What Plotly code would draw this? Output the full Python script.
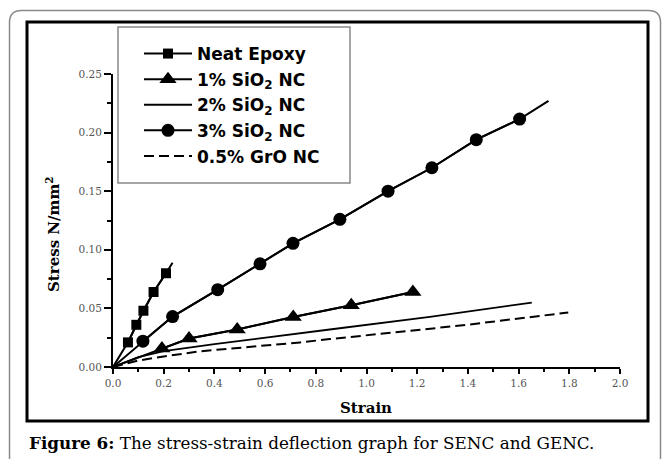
import plotly.graph_objects as go

# ---------------- data ----------------
neat_strain = [0.059, 0.092, 0.12, 0.16, 0.209]
neat_stress = [0.021, 0.036, 0.048, 0.064, 0.080]
neat_line_strain = [0.0, 0.059, 0.092, 0.12, 0.16, 0.209, 0.235]
neat_line_stress = [0.0, 0.021, 0.036, 0.048, 0.064, 0.080, 0.089]

si1_strain = [0.193, 0.30, 0.49, 0.711, 0.94, 1.183]
si1_stress = [0.0157, 0.0243, 0.032, 0.0427, 0.0527, 0.064]
si1_line_strain = [0.0, 0.193, 0.30, 0.49, 0.711, 0.94, 1.183]
si1_line_stress = [0.0, 0.0157, 0.0243, 0.032, 0.0427, 0.0527, 0.064]

si2_strain = [0.0, 0.1, 0.2, 0.4, 0.855, 1.25, 1.652]
si2_stress = [0.0, 0.0085, 0.0135, 0.0195, 0.032, 0.0427, 0.055]

si3_strain = [0.118, 0.235, 0.413, 0.58, 0.71, 0.895, 1.085, 1.258, 1.433, 1.604]
si3_stress = [0.022, 0.043, 0.066, 0.088, 0.1055, 0.126, 0.150, 0.170, 0.194, 0.2115]
si3_line_strain = [0.0] + si3_strain + [1.718]
si3_line_stress = [0.0] + si3_stress + [0.227]

gro_strain = [0.0, 0.1, 0.2, 0.344, 0.738, 0.855, 1.38, 1.796]
gro_stress = [0.0, 0.0055, 0.009, 0.0134, 0.021, 0.0238, 0.0356, 0.0465]

x_ticks = [0.0, 0.2, 0.4, 0.6, 0.8, 1.0, 1.2, 1.4, 1.6, 1.8, 2.0]
y_ticks = [0.00, 0.05, 0.10, 0.15, 0.20, 0.25]

names = ["Neat Epoxy", "1% SiO<sub>2</sub> NC", "2% SiO<sub>2</sub> NC",
         "3% SiO<sub>2</sub> NC", "0.5% GrO NC"]
caption = "<b>Figure 6:</b> The stress-strain deflection graph for SENC and GENC."

# ---------------- layout geometry ----------------
W, H = 662, 459
L, R, T, B = 113, 620, 74, 367   # plot area in pixels


def px(x):
    return (x - L) / (R - L)


def py(y):
    return (B - y) / (B - T)


fig = go.Figure()
lw = 2
fig.add_trace(go.Scatter(x=neat_line_strain, y=neat_line_stress, mode="lines",
                         line=dict(color="black", width=lw), showlegend=False, hoverinfo="skip"))
fig.add_trace(go.Scatter(x=neat_strain, y=neat_stress, mode="lines+markers", name=names[0],
                         legendgroup="a", line=dict(color="black", width=lw),
                         marker=dict(symbol="square", size=10, color="black")))
fig.add_trace(go.Scatter(x=si1_line_strain, y=si1_line_stress, mode="lines",
                         line=dict(color="black", width=lw), showlegend=False, hoverinfo="skip"))
fig.add_trace(go.Scatter(x=si1_strain, y=si1_stress, mode="lines+markers", name=names[1],
                         legendgroup="b", line=dict(color="black", width=lw),
                         marker=dict(symbol="triangle-up", size=15, color="black")))
fig.add_trace(go.Scatter(x=si2_strain, y=si2_stress, mode="lines", name=names[2],
                         legendgroup="c", line=dict(color="black", width=1.8)))
fig.add_trace(go.Scatter(x=si3_line_strain, y=si3_line_stress, mode="lines",
                         line=dict(color="black", width=lw), showlegend=False, hoverinfo="skip"))
fig.add_trace(go.Scatter(x=si3_strain, y=si3_stress, mode="lines+markers", name=names[3],
                         legendgroup="d", line=dict(color="black", width=lw),
                         marker=dict(symbol="circle", size=13, color="black")))
fig.add_trace(go.Scatter(x=gro_strain, y=gro_stress, mode="lines", name=names[4],
                         legendgroup="e", line=dict(color="black", width=2, dash="10px,5px")))

tickfont = dict(family="DejaVu Serif", size=10.5, color="#555555")
fig.update_xaxes(range=[0, 2.0], tickvals=x_ticks, ticktext=[f"{v:.1f}" for v in x_ticks],
                 showline=True, linecolor="black", linewidth=2, ticks="outside",
                 ticklen=5, tickwidth=1.5, tickcolor="black", showgrid=False, zeroline=False,
                 tickfont=tickfont,
                 minor=dict(dtick=0.1, ticks="outside", ticklen=3, tickwidth=1.5, tickcolor="black"))
fig.update_yaxes(range=[0, 0.25], tickvals=y_ticks, ticktext=[f"{v:.2f}" for v in y_ticks],
                 showline=True, linecolor="black", linewidth=2, ticks="outside",
                 ticklen=7, tickwidth=1.5, tickcolor="black", showgrid=False, zeroline=False,
                 tickfont=tickfont,
                 minor=dict(dtick=0.025, ticks="outside", ticklen=4, tickwidth=1.5, tickcolor="black"))

shapes = [
    # thick black frame
    dict(type="rect", xref="paper", yref="paper", x0=px(27), x1=px(648), y0=py(421), y1=py(22),
         line=dict(color="black", width=3), layer="below"),
    # legend box
    dict(type="rect", xref="paper", yref="paper", x0=px(118), x1=px(350), y0=py(183), y1=py(27),
         line=dict(color="#888888", width=1.5), fillcolor="white", layer="below"),
]
r = 12
x0, x1, y0, y1 = 9.5, 660.5, 10.5, 470
path = (f"M {px(x0)},{py(y1)} L {px(x0)},{py(y0 + r)} "
        f"Q {px(x0)},{py(y0)} {px(x0 + r)},{py(y0)} "
        f"L {px(x1 - r)},{py(y0)} Q {px(x1)},{py(y0)} {px(x1)},{py(y0 + r)} "
        f"L {px(x1)},{py(y1)}")
shapes.append(dict(type="path", xref="paper", yref="paper", path=path,
                   line=dict(color="#8a8a8a", width=1.5)))

annotations = [
    dict(text="Strain", xref="paper", yref="paper", x=px(366), y=py(408), showarrow=False,
         xanchor="center", yanchor="middle",
         font=dict(family="DejaVu Serif", size=15, color="black", weight="bold")),
    dict(text="Stress N/mm<sup>2</sup>", xref="paper", yref="paper", x=px(53), y=py(234),
         showarrow=False, textangle=-90, xanchor="center", yanchor="middle",
         font=dict(family="DejaVu Serif", size=15, color="black", weight="bold")),
    dict(text=caption, xref="paper", yref="paper", x=px(27), y=py(443), showarrow=False,
         xanchor="left", yanchor="middle",
         font=dict(family="DejaVu Serif", size=16.8, color="black")),
]

fig.update_layout(
    width=W, height=H,
    margin=dict(l=L, r=W - R, t=T, b=H - B),
    paper_bgcolor="white", plot_bgcolor="rgba(0,0,0,0)",
    shapes=shapes, annotations=annotations,
    legend=dict(x=px(139), y=py(36), xanchor="left", yanchor="top",
                bgcolor="rgba(0,0,0,0)", borderwidth=0, itemwidth=48,
                tracegroupgap=0.5,
                font=dict(family="DejaVu Sans", size=17, color="black", weight="bold")),
    showlegend=True,
)

fig.write_html("out.html", config={"displayModeBar": False},
               post_script="document.body.style.margin='0';document.body.style.padding='0';")
